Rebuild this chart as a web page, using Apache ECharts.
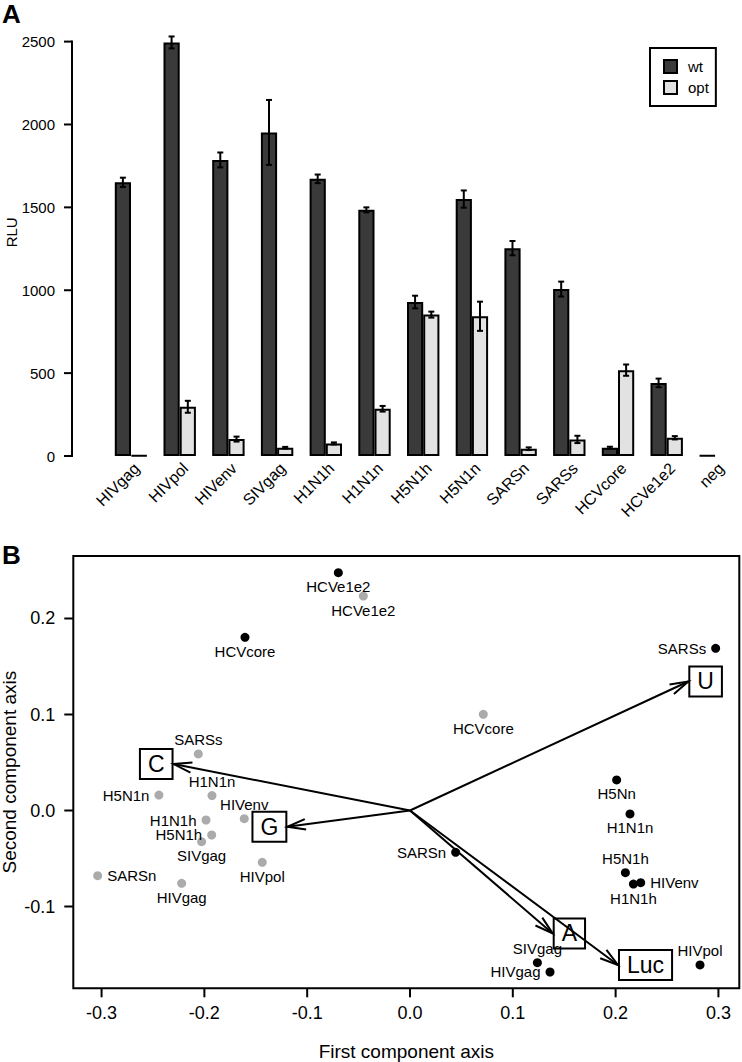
<!DOCTYPE html>
<html>
<head>
<meta charset="utf-8">
<script src="https://cdn.jsdelivr.net/npm/echarts@6/dist/echarts.min.js"></script>
<style>
html,body{margin:0;padding:0;background:#fff;}
#chart{width:742px;height:1062px;}
</style>
</head>
<body>
<div id="chart"></div>
<script>
// ---------- Panel A data ----------
const categories = ['HIVgag','HIVpol','HIVenv','SIVgag','H1N1h','H1N1n','H5N1h','H5N1n','SARSn','SARSs','HCVcore','HCVe1e2','neg'];
const wtValues  = [1651, 2495, 1786, 1952, 1672, 1485, 929, 1550, 1254, 1007, 50, 441, 4];
const wtErrors  = [28, 36, 45, 196, 26, 15, 38, 52, 43, 45, 6, 26, 0];
const optValues = [4, 297, 102, 50, 76, 285, 853, 843, 44, 100, 518, 110, null];
const optErrors = [0, 36, 15, 5, 6, 17, 18, 88, 8, 22, 34, 10, 0];
const rluTicks  = [0, 500, 1000, 1500, 2000, 2500];

// ---------- Panel B data ----------
const wtNames = ['HCVe1e2','HCVcore','SARSs','H5Nn','H1N1n','SARSn','H5N1h','H1N1h','HIVenv','HIVpol','SIVgag','HIVgag'];
const wtX = [-0.0697,-0.1605,0.2973,0.2010,0.2140,0.0444,0.2095,0.2173,0.2244,0.2821,0.1239,0.1362];
const wtY = [0.2477,0.1804,0.1689,0.0318,-0.0036,-0.0436,-0.0648,-0.0766,-0.0752,-0.1609,-0.1585,-0.1682];
const wtLabelSide = ['bottom','bottom','left','bottom','bottom','left','top','bottom','right','top','top','left'];

const optNames = ['HCVe1e2','HCVcore','SARSs','H1N1n','H5N1n','HIVenv','H1N1h','H5N1h','SIVgag','HIVpol','SARSn','HIVgag'];
const optX = [-0.0454,0.0713,-0.2059,-0.1926,-0.2442,-0.1612,-0.1984,-0.1929,-0.2027,-0.1437,-0.3038,-0.2221];
const optY = [0.2234,0.1002,0.0589,0.0155,0.0161,-0.0085,-0.0099,-0.0255,-0.0325,-0.0540,-0.0679,-0.0759];
const optLabelSide = ['bottom','bottom','top','top','left','top','left','left','bottom','bottom','right','bottom'];

const arrowNames = ['U','C','G','A','Luc'];
const arrowX = [0.2707,-0.2300,-0.1193,0.1388,0.2023];
const arrowY = [0.1344,0.0484,-0.0169,-0.1281,-0.1609];

const xTicksB = [-0.3,-0.2,-0.1,0.0,0.1,0.2,0.3];
const yTicksB = [-0.1,0.0,0.1,0.2];

// ---------- build ----------
const FONT = '"Liberation Sans", Arial, Helvetica, sans-serif';
const TICK = 9;
const XA_MIN = -1.2115, XA_MAX = 12.5;
const XB_MIN = -0.3275, XB_MAX = 0.3203, YB_MIN = -0.1852, YB_MAX = 0.2651;
const LINE = {stroke:'#000', lineWidth:2};
const catIndex = categories.map((c,i)=>i);

function errData(vals, errs){
  const out = [];
  vals.forEach((v,i)=>{ if(v!=null && errs[i]>0) out.push([i, v, errs[i]]); });
  return out;
}
function errRender(side){
  return function(params, api){
    const i = api.value(0), v = api.value(1), e = api.value(2);
    const bw = api.size([1,0])[0];
    const c = api.coord([i, v]);
    const x = c[0] + side * bw / 6;
    const yt = api.coord([i, v + e])[1];
    const yb = api.coord([i, v - e])[1];
    const cap = 3;
    return {type:'group', children:[
      {type:'line', shape:{x1:x,y1:yt,x2:x,y2:yb}, style:LINE},
      {type:'line', shape:{x1:x-cap,y1:yt,x2:x+cap,y2:yt}, style:LINE},
      {type:'line', shape:{x1:x-cap,y1:yb,x2:x+cap,y2:yb}, style:LINE}
    ]};
  };
}
function scatterData(names, xs, ys, sides){
  return names.map((n,i)=>({
    name:n, value:[xs[i], ys[i]],
    label:{position:sides[i], distance:(sides[i]==='left'||sides[i]==='right')?5:2}
  }));
}

const option = {
  animation:false,
  backgroundColor:'#fff',
  title:[
    {text:'A', left:2, top:1, padding:0, textStyle:{fontFamily:FONT, fontSize:26, lineHeight:26, fontWeight:'bold', color:'#000'}},
    {text:'B', left:2, top:542, padding:0, textStyle:{fontFamily:FONT, fontSize:26, lineHeight:26, fontWeight:'bold', color:'#000'}}
  ],
  legend:{
    data:['wt','opt'], orient:'vertical', left:650, top:48,
    padding:[11,7,11,13], itemWidth:13, itemHeight:13, itemGap:6,
    borderColor:'#000', borderWidth:2, icon:'rect', selectedMode:false,
    itemStyle:{borderColor:'#000', borderWidth:2},
    textStyle:{fontFamily:FONT, fontSize:15, color:'#000', padding:[0,0,0,6]}
  },
  grid:[
    {left:72, top:41.6, width:667.75, height:414.4, containLabel:false, outerBoundsMode:'none'},
    {left:73.3, top:556, width:666, height:432.3, show:true, borderColor:'#000', borderWidth:2, backgroundColor:'transparent', containLabel:false, outerBoundsMode:'none'}
  ],
  xAxis:[
    {gridIndex:0, type:'value', min:XA_MIN, max:XA_MAX,
     axisLine:{show:false, onZero:false}, axisTick:{show:false}, splitLine:{show:false},
     axisLabel:{customValues:catIndex, rotate:45, margin:4, verticalAlign:'top', fontFamily:FONT, fontSize:16, color:'#000',
       formatter:v=>categories[Math.round(v)]}},
    {gridIndex:1, type:'value', min:XB_MIN, max:XB_MAX, position:'bottom',
     name:'First component axis', nameLocation:'middle', nameGap:54, nameMoveOverlap:false,
     nameTextStyle:{fontFamily:FONT, fontSize:19, color:'#000'},
     axisLine:{show:false, onZero:false}, splitLine:{show:false},
     axisTick:{show:false},
     axisLabel:{customValues:xTicksB, margin:16, fontFamily:FONT, fontSize:18, color:'#000',
       formatter:v=>v.toFixed(1)}}
  ],
  yAxis:[
    {gridIndex:0, type:'value', min:rluTicks[0], max:rluTicks[rluTicks.length-1], interval:500, position:'left',
     name:'RLU', nameLocation:'middle', nameGap:53, nameMoveOverlap:false,
     nameTextStyle:{fontFamily:FONT, fontSize:15, color:'#000', padding:[0,0,0,33]},
     axisLine:{show:false, onZero:false}, axisTick:{show:false}, splitLine:{show:false},
     axisLabel:{margin:17, fontFamily:FONT, fontSize:15, color:'#000', formatter:v=>String(v)}},
    {gridIndex:1, type:'value', min:YB_MIN, max:YB_MAX, position:'left',
     name:'Second component axis', nameLocation:'middle', nameGap:54, nameMoveOverlap:false,
     nameTextStyle:{fontFamily:FONT, fontSize:19, color:'#000'},
     axisLine:{show:false, onZero:false}, splitLine:{show:false},
     axisTick:{show:false},
     axisLabel:{customValues:yTicksB, margin:18, fontFamily:FONT, fontSize:18, color:'#000',
       formatter:v=>v.toFixed(1)}}
  ],
  series:[
    {name:'wt', type:'bar', xAxisIndex:0, yAxisIndex:0, data:wtValues.map((v,i)=>[i, v]),
     barWidth:16.2, barGap:'0%',
     itemStyle:{color:'#3a3a3a', borderColor:'#000', borderWidth:2}},
    {name:'opt', type:'bar', xAxisIndex:0, yAxisIndex:0, data:optValues.map((v,i)=>[i, v==null?'-':v]),
     barWidth:16.2, barGap:'0%',
     itemStyle:{color:'#e2e2e2', borderColor:'#000', borderWidth:2}},
    {type:'custom', xAxisIndex:0, yAxisIndex:0, clip:false, encode:{x:0,y:1},
     data:errData(wtValues, wtErrors), renderItem:errRender(-1), z:5},
    {type:'custom', xAxisIndex:0, yAxisIndex:0, clip:false, encode:{x:0,y:1},
     data:errData(optValues, optErrors), renderItem:errRender(1), z:5},
    // Panel A y axis line and ticks, at the grid's left edge
    {type:'custom', xAxisIndex:0, yAxisIndex:0, clip:false, encode:{x:0,y:1},
     data:rluTicks.map(v=>[XA_MIN, v]),
     renderItem:function(params, api){
       const p = api.coord([api.value(0), api.value(1)]);
       const kids = [{type:'line', shape:{x1:p[0]-8,y1:p[1],x2:p[0],y2:p[1]}, style:LINE}];
       if (params.dataIndex === 0){
         const a = api.coord([XA_MIN, rluTicks[0]]), b = api.coord([XA_MIN, rluTicks[rluTicks.length-1]]);
         kids.push({type:'line', shape:{x1:a[0],y1:a[1]+1,x2:b[0],y2:b[1]-1}, style:LINE});
       }
       return {type:'group', children:kids};
     }},
    // Panel B ticks
    {type:'custom', xAxisIndex:1, yAxisIndex:1, clip:false, encode:{x:0,y:1},
     data:xTicksB.map(v=>[v, YB_MIN]),
     renderItem:function(params, api){
       const p = api.coord([api.value(0), api.value(1)]);
       return {type:'line', shape:{x1:p[0],y1:p[1],x2:p[0],y2:p[1]+TICK}, style:LINE};
     }},
    {type:'custom', xAxisIndex:1, yAxisIndex:1, clip:false, encode:{x:0,y:1},
     data:yTicksB.map(v=>[XB_MIN, v]),
     renderItem:function(params, api){
       const p = api.coord([api.value(0), api.value(1)]);
       return {type:'line', shape:{x1:p[0]-TICK,y1:p[1],x2:p[0],y2:p[1]}, style:LINE};
     }},
    // Panel B arrows
    {type:'custom', xAxisIndex:1, yAxisIndex:1, clip:false, encode:{x:0,y:1},
     data:arrowNames.map((n,i)=>[arrowX[i], arrowY[i]]),
     renderItem:function(params, api){
       const i = params.dataIndex;
       const tip = api.coord([api.value(0), api.value(1)]);
       const o = api.coord([0,0]);
       const ang = Math.atan2(tip[1]-o[1], tip[0]-o[0]);
       const L = 19, h = 16*Math.PI/180;
       const a1 = [tip[0]-L*Math.cos(ang-h), tip[1]-L*Math.sin(ang-h)];
       const a2 = [tip[0]-L*Math.cos(ang+h), tip[1]-L*Math.sin(ang+h)];
       const right = arrowX[i] > 0;
       return {type:'group', children:[
         {type:'line', shape:{x1:o[0],y1:o[1],x2:tip[0],y2:tip[1]}, style:LINE},
         {type:'polyline', shape:{points:[a1, tip, a2]}, style:{stroke:'#000', lineWidth:2, fill:null}},
         {type:'text', x:tip[0] + (right?1:-1), y:tip[1],
          style:{text:arrowNames[i], font:'23px ' + FONT, fill:'#000',
                 align: right?'left':'right', verticalAlign:'middle',
                 borderColor:'#000', borderWidth:2, padding:[4,8,3,8], lineHeight:23}}
       ]};
     }},
    {name:'optPts', type:'scatter', xAxisIndex:1, yAxisIndex:1, symbolSize:9,
     itemStyle:{color:'#ababab', opacity:1},
     label:{show:true, formatter:'{b}', fontFamily:FONT, fontSize:15, color:'#000'},
     data:scatterData(optNames, optX, optY, optLabelSide)},
    {name:'wtPts', type:'scatter', xAxisIndex:1, yAxisIndex:1, symbolSize:9,
     itemStyle:{color:'#000', opacity:1},
     label:{show:true, formatter:'{b}', fontFamily:FONT, fontSize:15, color:'#000'},
     data:scatterData(wtNames, wtX, wtY, wtLabelSide)}
  ]
};

const chart = echarts.init(document.getElementById('chart'), null, {renderer:'svg'});
chart.setOption(option);
</script>
</body>
</html>
